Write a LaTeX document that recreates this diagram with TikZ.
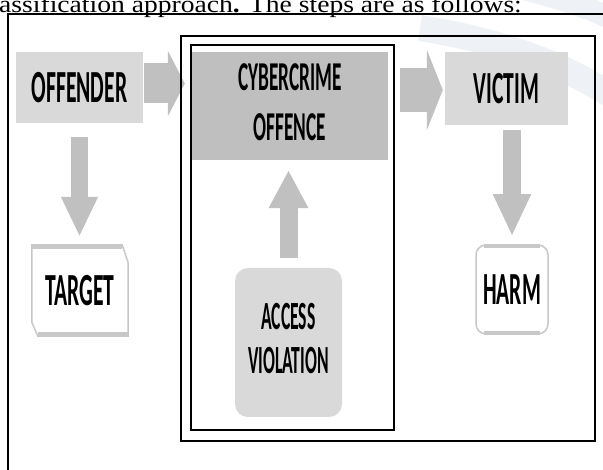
\documentclass[tikz,border=0pt]{standalone}
\usepackage{fontspec}
\setmainfont{Liberation Serif}
\newfontfamily\boxfont{Carlito}
\usetikzlibrary{arrows.meta, calc}

\definecolor{lightbox}{HTML}{D9D9D9}
\definecolor{darkbox}{HTML}{BFBFBF}
\definecolor{arrowgray}{HTML}{C0C0C0}
\definecolor{edgegray}{HTML}{C8C8C8}
\definecolor{watermark}{HTML}{EEF1F5}

% squeeze the caps sideways, like the condensed face of the figure
\newcommand\squeezed[2][0.47]{\scalebox{#1}[1]{#2}}

\begin{document}
\begin{tikzpicture}
  [
    x=1pt, y=-1pt,
    box/.style     = {rectangle, inner sep=0pt, font=\boxfont\bfseries\fontsize{46}{50}\selectfont},
    graybox/.style = {box, fill=lightbox},
    outline/.style = {draw=edgegray, line width=1.5pt, fill=white},
    bar/.style     = {draw=edgegray, line width=4pt},
    frame/.style   = {draw=black, line width=#1},
    blockarrow/.style n args = {3}{draw=arrowgray, line width=#1, -{Triangle[width=#2, length=#3]}},
  ]

  \useasboundingbox (0,0) rectangle (603,470);

  % faint logo in the background
  \draw[watermark, line width=26pt] (420,28) .. controls (480,38) and (550,55) .. (615,98);
  \draw[watermark, line width=22pt] (520,-12) .. controls (550,-4) and (580,4) .. (615,20);

  % running text above the figure
  \node (caption) [anchor=base west, inner sep=0pt, font=\fontsize{24}{26}\selectfont]
    at (-1,13) {\scalebox{1.15}[1]{assification approach\textbf{.} The steps are as follows:}};

  % the boxes
  \node (offender) at (79.5,87.5) [graybox, minimum width=127pt, minimum height=71pt] {\squeezed{OFFENDER}};
  \node (cybercrime) at (290,106) [box, fill=darkbox, minimum width=196pt, minimum height=108pt,
    font=\boxfont\bfseries\fontsize{41}{50}\selectfont]
    {\squeezed{\begin{tabular}{@{}c@{}}CYBERCRIME\\OFFENCE\end{tabular}}};
  \node (victim) at (506.5,88.5) [graybox, minimum width=123pt, minimum height=73pt] {\squeezed{VICTIM}};

  \node (access) at (288.5,342.5) [graybox, rounded corners=13pt, minimum width=107pt, minimum height=149pt,
    font=\boxfont\bfseries\fontsize{40}{44}\selectfont]
    {\squeezed[0.44]{\begin{tabular}{@{}c@{}}ACCESS\\VIOLATION\end{tabular}}};

  % target: cut corners top right and bottom left
  \node (target) at (80,290.5) [box, minimum width=96pt, minimum height=91pt] {};
  \draw[outline] (target.north west) -- ([xshift=-6pt]target.north east) -- ([yshift=-18pt]target.north east)
    -- (target.south east) -- ([xshift=6pt]target.south west) -- ([yshift=14pt]target.south west) -- cycle;
  \draw[bar] ([yshift=-2pt]target.north west) -- ([xshift=-6pt,yshift=-2pt]target.north east);
  \draw[bar] ([xshift=6pt,yshift=2pt]target.south west) -- ([yshift=2pt]target.south east);
  \node at (target) [box] {\squeezed{TARGET}};

  % harm: rounded
  \node (harm) at (512,289.5) [box, outline, rounded corners=10pt, minimum width=72pt, minimum height=89pt] {\squeezed{HARM}};
  \draw[bar] ([xshift=9pt,yshift=-2pt]harm.north west) -- ([xshift=-9pt,yshift=-2pt]harm.north east);
  \draw[bar] ([xshift=9pt,yshift=2pt]harm.south west) -- ([xshift=-9pt,yshift=2pt]harm.south east);

  % block arrows
  \draw[blockarrow={40pt}{65pt}{17pt}, shorten <=1pt, shorten >=7pt]
    ([yshift=4pt]offender.east) -- ([yshift=4pt]offender.east -| cybercrime.west);
  \draw[blockarrow={44pt}{80pt}{16pt}, shorten <=12pt, shorten >=2pt]
    ([yshift=-1.5pt]cybercrime.east |- victim.west) -- ([yshift=-1.5pt]victim.west);
  \draw[blockarrow={17pt}{34pt}{40pt}, shorten <=14pt, shorten >=8pt]
    (offender.south) -- (offender.south |- target.north);
  \draw[blockarrow={18pt}{35pt}{42pt}, shorten <=5pt, shorten >=8pt]
    (harm.north |- victim.south) -- (harm.north);
  \draw[blockarrow={18pt}{37pt}{38pt}, shorten <=10pt, shorten >=10pt]
    (access.north) -- (access.north |- cybercrime.south);

  % the frames
  \draw[frame=1.5pt] (8,480) -- (8,14) -- (610,14);
  \draw[frame=2pt] (181,36) rectangle (595,441);
  \draw[frame=1.5pt] (191,45) rectangle (394,430);

\end{tikzpicture}
\end{document}
